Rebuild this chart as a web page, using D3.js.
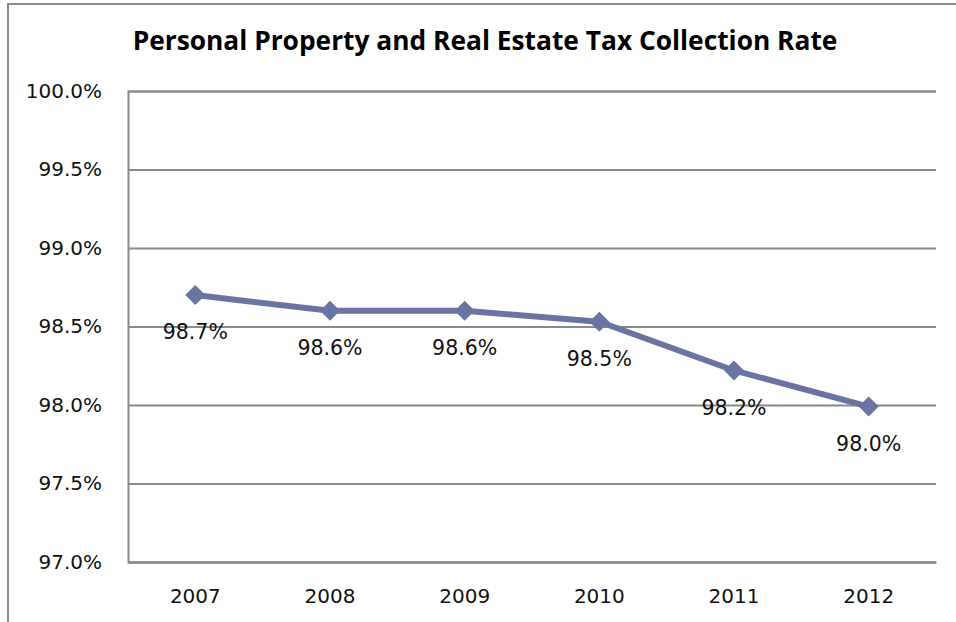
<!DOCTYPE html>
<html>
<head>
<meta charset="utf-8">
<script src="https://cdn.jsdelivr.net/npm/d3@7"></script>
<style>
  html, body { margin: 0; padding: 0; background: #fff; }
  svg { display: block; }
</style>
</head>
<body>
<svg id="chart" width="956" height="622"></svg>
<script>
// Collection rate by fiscal year
const years = ["2007", "2008", "2009", "2010", "2011", "2012"];
const rates = [98.70, 98.60, 98.60, 98.53, 98.22, 97.99];
const rateLabels = ["98.7%", "98.6%", "98.6%", "98.5%", "98.2%", "98.0%"];
const yTicks = [97.0, 97.5, 98.0, 98.5, 99.0, 99.5, 100.0];
const titleText = "Personal Property and Real Estate Tax Collection Rate";

const svg = d3.select("#chart");
const W = 956, H = 622;
const plot = { left: 128, right: 936, top: 91, bottom: 562 };
const lineColor = "#6a74a2";
const gridColor = "#8a8a8a";
const font = "'DejaVu Sans', Verdana, sans-serif";

// Chart frame
svg.append("rect")
  .attr("x", 8).attr("y", 4)
  .attr("width", W + 20).attr("height", H + 20)
  .attr("fill", "#fff")
  .attr("stroke", "#8c8c8c").attr("stroke-width", 2);

// Title, sized to its measured width
const title = svg.append("text")
  .attr("x", 485).attr("y", 50)
  .attr("text-anchor", "middle")
  .attr("font-family", "'Open Sans', Lato, sans-serif")
  .attr("font-weight", "bold")
  .attr("font-size", 22)
  .attr("fill", "#000")
  .text(titleText);
const tw = title.node().getComputedTextLength();
title.attr("font-size", 22 * 705 / tw);

const x = d3.scaleBand().domain(years).range([plot.left, plot.right]);
const y = d3.scaleLinear().domain([97, 100]).range([plot.bottom, plot.top]);

// Horizontal gridlines and y tick labels
const yAxis = d3.axisLeft(y)
  .tickValues(yTicks)
  .tickSize(-(plot.right - plot.left))
  .tickPadding(26)
  .tickFormat(d => d.toFixed(1) + "%");
const gy = svg.append("g")
  .attr("transform", `translate(${plot.left},0)`)
  .call(yAxis);
gy.select(".domain").attr("stroke", gridColor).attr("stroke-width", 2);
gy.selectAll(".tick line").attr("stroke", gridColor).attr("stroke-width", 2);
gy.selectAll(".tick text")
  .attr("font-family", font).attr("font-size", 20).attr("fill", "#111");

// Category labels along the bottom
const xAxis = d3.axisBottom(x).tickSize(0).tickPadding(27);
const gx = svg.append("g")
  .attr("transform", `translate(0,${plot.bottom})`)
  .call(xAxis);
gx.select(".domain").attr("stroke", gridColor).attr("stroke-width", 2);
gx.selectAll(".tick text")
  .attr("font-family", font).attr("font-size", 20).attr("fill", "#111");

const data = years.map((yr, i) => ({ year: yr, rate: rates[i], label: rateLabels[i] }));
const cx = d => x(d.year) + x.bandwidth() / 2;

// Rate line
svg.append("path")
  .datum(data)
  .attr("fill", "none")
  .attr("stroke", lineColor)
  .attr("stroke-width", 6)
  .attr("stroke-linejoin", "round")
  .attr("d", d3.line().x(cx).y(d => y(d.rate)));

// Diamond markers
svg.append("g").selectAll("path")
  .data(data)
  .join("path")
  .attr("transform", d => `translate(${cx(d)},${y(d.rate)}) rotate(45)`)
  .attr("d", d3.symbol().type(d3.symbolSquare).size(200))
  .attr("fill", lineColor);

// Value labels beneath each point
svg.append("g").selectAll("text")
  .data(data)
  .join("text")
  .attr("x", cx)
  .attr("y", d => y(d.rate) + 37)
  .attr("dy", "0.35em")
  .attr("text-anchor", "middle")
  .attr("font-family", font)
  .attr("font-size", 20.5)
  .attr("fill", "#111")
  .text(d => d.label);
</script>
</body>
</html>
